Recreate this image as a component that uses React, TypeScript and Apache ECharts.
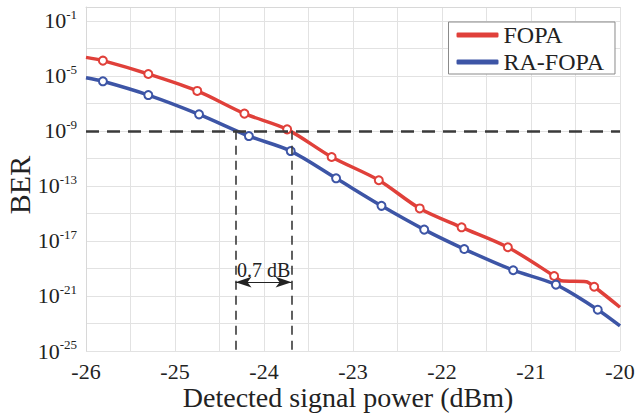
import React, { useEffect, useRef } from "react";
import * as echarts from "echarts";

// Detected signal power (dBm) and log10(BER)
const fopaPower = [-26, -25.81, -25.3, -24.75, -24.22, -23.74, -23.24, -22.71, -22.25, -21.78, -21.26, -20.74, -20.66, -20.38, -20.29, -20];
const fopaLogBer = [-3.66, -3.9, -4.87, -6.1, -7.75, -8.89, -10.9, -12.59, -14.64, -16.01, -17.46, -19.55, -19.9, -19.96, -20.33, -21.82];
const fopaMarker = [false, true, true, true, true, true, true, true, true, true, true, true, false, false, true, false];

const raPower = [-26, -25.81, -25.3, -24.73, -24.17, -23.7, -23.19, -22.68, -22.2, -21.75, -21.2, -20.72, -20.25, -20];
const raLogBer = [-5.14, -5.4, -6.4, -7.8, -9.38, -10.47, -12.45, -14.45, -16.18, -17.59, -19.13, -20.18, -22.0, -23.18];
const raMarker = [false, true, true, true, true, true, true, true, true, true, true, true, true, false];

const seriesNames = ["FOPA", "RA-FOPA"];
const xTicks = [-26, -25, -24, -23, -22, -21, -20];
const yTickExponents = [-25, -21, -17, -13, -9, -5, -1];

const thresholdLogBer = -9;
const crossPower = [-24.32, -23.69];
const arrowLogBer = -20;
const gainLabel = "0.7 dB";

const RED = "#e0403a";
const BLUE = "#3d55a6";
const FONT = "'Liberation Serif', 'Times New Roman', serif";

function buildData(xs: number[], ys: number[], marks: boolean[]) {
  return xs.map((x, i) => (marks[i] ? { value: [x, ys[i]] } : { value: [x, ys[i]], symbol: "none" }));
}

export default function App() {
  const ref = useRef<HTMLDivElement>(null);
  useEffect(() => {
    document.body.style.margin = "0";
    if (!ref.current) return;
    const chart = echarts.init(ref.current, undefined, { renderer: "svg" });
    const yMin = -25;
    const yMax = 0;
    chart.setOption({
      animation: false,
      backgroundColor: "#ffffff",
      textStyle: { fontFamily: FONT },
      grid: { left: 86, right: 19, top: 7, bottom: 62, containLabel: false, outerBoundsMode: "none" },
      legend: {
        data: seriesNames,
        orient: "vertical",
        right: 24,
        top: 22,
        icon: "roundRect",
        itemWidth: 42,
        itemHeight: 5,
        itemGap: 3,
        padding: [1, 11, 0, 8],
        borderColor: "#8a8a8a",
        borderWidth: 1,
        backgroundColor: "#ffffff",
        textStyle: { fontFamily: FONT, fontSize: 24, color: "#222", lineHeight: 24 },
      },
      xAxis: {
        type: "value",
        min: xTicks[0],
        max: xTicks[xTicks.length - 1],
        interval: 0.5,
        name: "Detected signal power (dBm)",
        nameLocation: "middle",
        nameGap: 32,
        nameMoveOverlap: false,
        nameTextStyle: { fontFamily: FONT, fontSize: 28, lineHeight: 28, color: "#222", padding: [0, 10, 0, 0] },
        axisLine: { show: true, lineStyle: { color: "#d8d8d8", width: 1 } },
        axisTick: { show: false },
        axisLabel: {
          fontFamily: FONT,
          fontSize: 22,
          lineHeight: 22,
          color: "#222",
          margin: 9,
          formatter: (v: number) => (xTicks.includes(v) ? String(v) : ""),
        },
        splitLine: { show: true, lineStyle: { color: "#e2e2e2", width: 1 } },
      },
      yAxis: [
        {
          type: "value",
          min: yMin,
          max: yMax,
          show: false,
          splitLine: { show: false },
        },
        {
          // grid/label axis: offset by 25 so ticks fall on odd decades
          type: "value",
          min: 0,
          max: yMax - yMin,
          interval: 2,
          position: "left",
          name: "BER",
          nameLocation: "middle",
          nameGap: 52,
          nameMoveOverlap: false,
          nameTextStyle: { fontFamily: FONT, fontSize: 30, color: "#222", padding: [0, 0, 0, -12] },
          axisLine: { show: true, lineStyle: { color: "#d8d8d8", width: 1 } },
          axisTick: { show: false },
          axisLabel: {
            margin: 9,
            formatter: (v: number) => {
              const e = v + yMin;
              return yTickExponents.includes(e) ? `{b|10}{s|${e}}` : "";
            },
            rich: {
              b: { fontFamily: FONT, fontSize: 22, color: "#222", lineHeight: 26 },
              s: { fontFamily: FONT, fontSize: 13, color: "#222", verticalAlign: "top", lineHeight: 26, padding: [0, 0, 10, 0] },
            },
          },
          splitLine: { show: true, lineStyle: { color: "#e2e2e2", width: 1 } },
        },
      ],
      series: [
        {
          name: seriesNames[0],
          type: "line",
          yAxisIndex: 0,
          data: buildData(fopaPower, fopaLogBer, fopaMarker),
          smooth: 0.3,
          symbol: "emptyCircle",
          symbolSize: 8,
          z: 3,
          lineStyle: { color: RED, width: 3.5 },
          itemStyle: { color: RED, borderWidth: 2 },
          markLine: {
            silent: true,
            symbol: "none",
            label: { show: false },
            lineStyle: { color: "#3a3a3a", width: 2.5, type: [13, 8] },
            data: [{ yAxis: thresholdLogBer }],
          },
        },
        {
          name: seriesNames[1],
          type: "line",
          yAxisIndex: 0,
          data: buildData(raPower, raLogBer, raMarker),
          smooth: 0.3,
          symbol: "emptyCircle",
          symbolSize: 8,
          z: 3,
          lineStyle: { color: BLUE, width: 3.5 },
          itemStyle: { color: BLUE, borderWidth: 2 },
          markLine: {
            silent: true,
            symbol: "none",
            label: { show: false },
            lineStyle: { color: "#3a3a3a", width: 1.6, type: [9, 6] },
            data: [
              [{ coord: [crossPower[0], thresholdLogBer] }, { coord: [crossPower[0], yMin] }],
              [{ coord: [crossPower[1], thresholdLogBer] }, { coord: [crossPower[1], yMin] }],
              [
                {
                  coord: [crossPower[0], arrowLogBer],
                  symbol: "arrow",
                  lineStyle: { type: "solid", width: 1.2, color: "#222" },
                  label: {
                    show: true,
                    position: "insideMiddleTop",
                    distance: 2,
                    formatter: gainLabel,
                    fontFamily: FONT,
                    fontSize: 20,
                    color: "#222",
                  },
                },
                { coord: [crossPower[1], arrowLogBer], symbol: "arrow" },
              ],
            ],
          },
        },
      ],
    });
    return () => chart.dispose();
  }, []);
  return <div ref={ref} style={{ width: 639, height: 413 }} />;
}
